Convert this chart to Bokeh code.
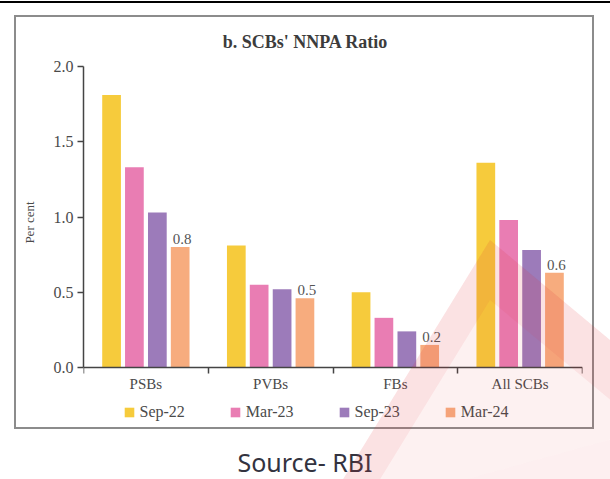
from decimal import Decimal, ROUND_HALF_UP

from bokeh.core.properties import value
from bokeh.embed import file_html
from bokeh.layouts import column
from bokeh.models import (ColumnDataSource, Div, FixedTicker, Label, LabelSet,
                          Legend, LegendItem, PrintfTickFormatter, Range1d)
from bokeh.plotting import figure
from bokeh.resources import INLINE

# ---- data -------------------------------------------------------------
categories = ["PSBs", "PVBs", "FBs", "All SCBs"]
periods = ["Sep-22", "Mar-23", "Sep-23", "Mar-24"]
sep22 = [1.81, 0.81, 0.50, 1.36]
mar23 = [1.33, 0.55, 0.33, 0.98]
sep23 = [1.03, 0.52, 0.24, 0.78]
mar24 = [0.80, 0.46, 0.15, 0.63]
y_ticks = [0.0, 0.5, 1.0, 1.5, 2.0]

series = [sep22, mar23, sep23, mar24]
colors = ["#F6CB3C", "#E97DB3", "#9C7BBA", "#F7AC7E"]
offsets = [-0.275, -0.092, 0.092, 0.275]
bar_width = 0.15

# ---- layout (page pixels) ---------------------------------------------
PAGE_W, PAGE_H = 610, 479
BOX_L, BOX_T = 16, 17              # inner corner of the framed panel
BOX_W, BOX_H = 576, 410            # inner size of the framed panel
AX_L, AX_R = 83, 582               # x extent of the value axis
Y0_PX, Y2_PX = 367, 66             # page rows of 0.0 and 2.0
SOURCE_TOP = 447
Y_TOP = 2.0
X_MAX = len(categories)

px_per_y = (Y0_PX - Y2_PX) / Y_TOP
px_per_x = (AX_R - AX_L) / X_MAX


def page_x(px):
    return (px - AX_L) / px_per_x


def page_y(py):
    return (Y0_PX - py) / px_per_y


SERIF = "Liberation Serif"
TEXT = "#4a4a4a"
AXIS = "#444444"

# the plot frame fills the panel height; the axes are pinned at 0
p = figure(width=BOX_W, height=BOX_H,
           x_range=Range1d(0, X_MAX),
           y_range=Range1d(page_y(BOX_T + BOX_H), page_y(BOX_T)),
           output_backend="svg", toolbar_location=None,
           min_border_left=AX_L - BOX_L, min_border_right=BOX_L + BOX_W - AX_R,
           min_border_top=0, min_border_bottom=0,
           margin=(BOX_T - 3, 18, 0, BOX_L),
           styles={"outline": "2px solid #8c8c8c"})
p.outline_line_color = None
p.grid.visible = False

# x axis: labels at group centres, ticks on group boundaries
xa = p.xaxis[0]
xa.fixed_location = 0
xa.ticker = FixedTicker(ticks=[i + 0.5 for i in range(len(categories))],
                        minor_ticks=list(range(len(categories) + 1)))
xa.major_label_overrides = {i + 0.5: c for i, c in enumerate(categories)}
xa.major_tick_out = 0
xa.major_tick_in = 0
xa.minor_tick_out = 6
xa.minor_tick_in = 0
xa.minor_tick_line_color = AXIS
xa.minor_tick_line_width = 1.5
xa.axis_line_color = AXIS
xa.axis_line_width = 1.5
xa.major_label_standoff = 2
xa.major_label_text_font = SERIF
xa.major_label_text_font_size = "15px"
xa.major_label_text_color = TEXT

ya = p.yaxis[0]
ya.bounds = (0, Y_TOP)
ya.ticker = FixedTicker(ticks=y_ticks, minor_ticks=[])
ya.formatter = PrintfTickFormatter(format="%.1f")
ya.major_tick_out = 6
ya.major_tick_in = 0
ya.major_tick_line_color = AXIS
ya.major_tick_line_width = 1.5
ya.axis_line_color = AXIS
ya.axis_line_width = 1.5
ya.major_label_standoff = 4
ya.major_label_text_font = SERIF
ya.major_label_text_font_size = "16px"
ya.major_label_text_color = TEXT
ya.axis_label = "Per cent"
ya.axis_label_text_font = SERIF
ya.axis_label_text_font_size = "13px"
ya.axis_label_text_font_style = "normal"
ya.axis_label_text_color = TEXT
ya.axis_label_standoff = 14

# ---- bars -------------------------------------------------------------
items = []
for name, vals, col, off in zip(periods, series, colors, offsets):
    src = ColumnDataSource(dict(x=[i + 0.5 + off for i in range(len(categories))], top=vals))
    r = p.vbar(x="x", top="top", bottom=0, width=bar_width, source=src,
               fill_color=col, line_color=None)
    items.append(LegendItem(label=name, renderers=[r]))


def one_decimal(v):
    return str(Decimal(str(v)).quantize(Decimal("0.1"), rounding=ROUND_HALF_UP))


lab_src = ColumnDataSource(dict(
    x=[i + 0.5 + offsets[-1] for i in range(len(categories))],
    y=mar24,
    t=[one_decimal(v) for v in mar24]))
p.add_layout(LabelSet(x="x", y="y", text="t", source=lab_src,
                      text_align="center", text_baseline="bottom",
                      x_offset=2, y_offset=3,
                      text_font=value(SERIF), text_font_size="15px",
                      text_color="#555555"))

# legend row under the category labels
legend = Legend(items=items, orientation="horizontal",
                location=(122.5 - AX_L, BOX_T + BOX_H - 420.5),
                glyph_width=12, glyph_height=12, label_standoff=5, spacing=44,
                padding=0, margin=0, border_line_color=None,
                background_fill_alpha=0,
                label_text_font=SERIF, label_text_font_size="16px",
                label_text_color=TEXT)
p.add_layout(legend, "center")

p.add_layout(Label(x=page_x(305), y=page_y(41.7), text="b. SCBs' NNPA Ratio",
                   text_align="center", text_baseline="alphabetic",
                   text_font=SERIF, text_font_size="18px", text_font_style="bold",
                   text_color="#3c3c3c"))

# ---- page pieces around the panel -------------------------------------
top_rule = Div(text="", width=PAGE_W, height=2, margin=(1, 0, 0, 0),
               styles={"background-color": "black", "overflow": "hidden"})

# faint triangular logo laid over the lower right of the page
logo_fill = "M490,240 L318,520 L700,415 Z"
logo_band = ("M490,240 L318,520 L700,415 Z "
             "M490,300 L355,520 L700,474 Z")
logo = (f'<div style="position:absolute;left:0px;top:-{SOURCE_TOP}px;'
        f'width:{PAGE_W}px;height:{PAGE_H}px;pointer-events:none;z-index:20">'
        f'<svg width="{PAGE_W}" height="{PAGE_H}" xmlns="http://www.w3.org/2000/svg">'
        f'<path d="{logo_fill}" fill="#e8333a" fill-opacity="0.07"/>'
        f'<path d="{logo_band}" fill="#e8333a" fill-opacity="0.08" fill-rule="evenodd"/>'
        f'</svg></div>')

source = Div(text=logo + "Source- RBI", width=PAGE_W, height=30,
             margin=(SOURCE_TOP - (BOX_T + BOX_H), 0, 0, 0),
             styles={"font-family": "Noto Sans", "font-size": "25px",
                     "line-height": "30px", "text-align": "center",
                     "color": "#33333f", "position": "relative",
                     "overflow": "visible"})

page = column(top_rule, p, source, spacing=0)

open("out.html", "w").write(file_html(page, INLINE))
